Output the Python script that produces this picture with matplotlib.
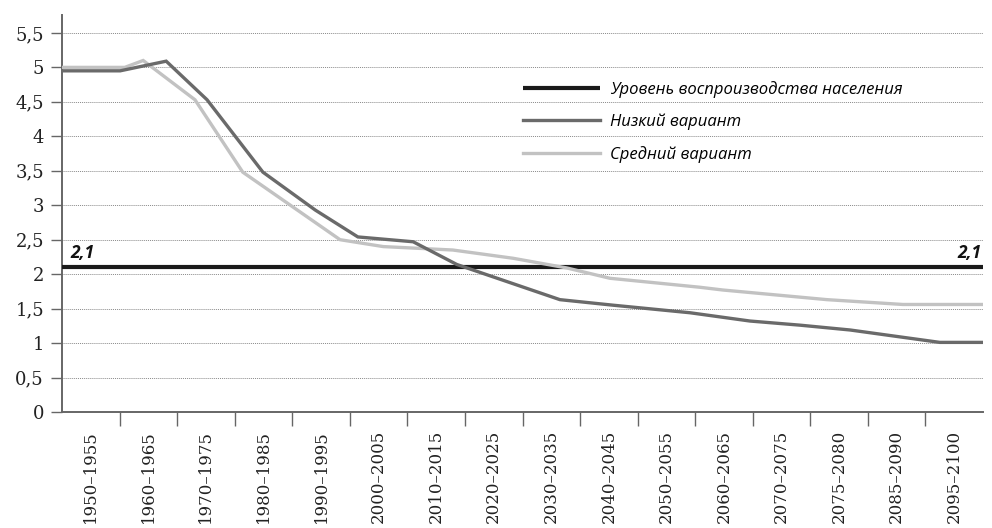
## суммарный коэффициент рождаемости: низкий и средний варианты прогноза

import numpy as np
import matplotlib
matplotlib.use("Agg")
import matplotlib.pyplot as plt

######################################
periods = ["1950–1955", "1960–1965", "1970–1975", "1980–1985", "1990–1995",
           "2000–2005", "2010–2015", "2020–2025", "2030–2035", "2040–2045",
           "2050–2055", "2060–2065", "2070–2075", "2075–2080", "2085–2090",
           "2095–2100"]

## position along the period axis (0 = left edge, 16 = right edge) and value
low_x = [0.0, 1.01, 1.81, 2.52, 3.49, 4.40, 5.14, 6.10, 6.86, 8.65, 9.57,
         10.91, 11.95, 12.82, 13.69, 15.25, 16.0]
low_y = [4.95, 4.95, 5.09, 4.53, 3.48, 2.93, 2.54, 2.47, 2.14, 1.63, 1.55,
         1.44, 1.32, 1.26, 1.19, 1.01, 1.01]

mid_x = [0.0, 1.09, 1.41, 2.31, 3.14, 4.83, 5.58, 6.79, 7.84, 8.77, 9.52,
         11.08, 11.48, 13.29, 14.61, 16.0]
mid_y = [5.0, 5.0, 5.1, 4.53, 3.48, 2.5, 2.4, 2.35, 2.23, 2.09, 1.94,
         1.81, 1.77, 1.63, 1.56, 1.56]

repl_level = 2.1
yticks = [0, 0.5, 1, 1.5, 2, 2.5, 3, 3.5, 4, 4.5, 5, 5.5]

names = ["Уровень воспроизводства населения", "Низкий вариант", "Средний вариант"]
######################################

serif = "DejaVu Serif"
sans = ["Open Sans", "DejaVu Sans"]

fig = plt.figure(figsize=(9.92, 5.28), dpi=100)
ax = fig.add_axes([62 / 992, 1 - 412 / 528, (983 - 62) / 992, (412 - 15) / 528])

n = len(periods)
ax.set_xlim(0, n)
ax.set_ylim(0, 5.76)

## grid
for v in yticks[1:]:
    ax.axhline(v, color="#8a8a8a", lw=0.7, ls=(0, (1, 1)), zorder=1)

h_repl, = ax.plot([0, n], [repl_level, repl_level], color="#1a1a1a", lw=3.0, zorder=3,
                  solid_capstyle="butt")
h_mid, = ax.plot(mid_x, mid_y, color="#c2c2c2", lw=2.4, zorder=4, solid_joinstyle="miter")
h_low, = ax.plot(low_x, low_y, color="#6a6a6a", lw=2.4, zorder=5, solid_joinstyle="miter")

## "2,1" labels
lbl = ("%g" % repl_level).replace(".", ",")
ax.text(0.15, repl_level + 0.07, lbl, family=sans, style="italic", weight="bold",
        fontsize=12.5, ha="left", va="bottom", color="#111111")
ax.text(n - 0.02, repl_level + 0.07, lbl, family=sans, style="italic", weight="bold",
        fontsize=12.5, ha="right", va="bottom", color="#111111")

## axes
for s in ["top", "right"]:
    ax.spines[s].set_visible(False)
for s in ["left", "bottom"]:
    ax.spines[s].set_color("#666666")
    ax.spines[s].set_linewidth(1.4)

ax.set_yticks(yticks)
ax.set_yticklabels([("%g" % v).replace(".", ",") for v in yticks], family=serif,
                   fontsize=13, color="#222222")
ax.tick_params(axis="y", length=8, width=1.0, color="#666666", pad=5)

ax.set_xticks(np.arange(1, n))
ax.set_xticklabels([])
ax.tick_params(axis="x", which="major", length=10, width=1.0, color="#666666")
ax.set_xticks(np.arange(n) + 0.5, minor=True)
ax.set_xticklabels(periods, minor=True, rotation=90, family=serif, fontsize=12,
                   va="top", color="#222222")
ax.tick_params(axis="x", which="minor", length=0, pad=13)

leg = ax.legend([h_repl, h_low, h_mid], names, loc="upper left",
                bbox_to_anchor=(508 / 992, 1 - 66 / 528), bbox_transform=fig.transFigure,
                frameon=False, handlelength=4.6, handletextpad=0.6, labelspacing=0.95,
                prop={"family": sans, "style": "italic", "size": 12})

fig.savefig("out.png", dpi=100)
plt.close()
